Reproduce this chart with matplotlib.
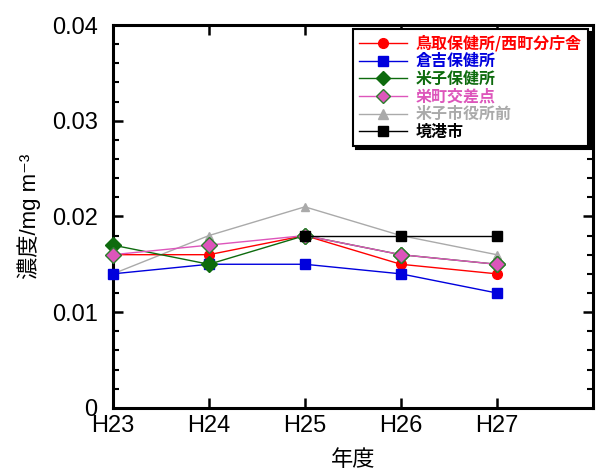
import numpy as np
import matplotlib
matplotlib.use("Agg")
import matplotlib.pyplot as plt
from matplotlib.ticker import MultipleLocator, FuncFormatter

plt.rcParams['font.family'] = ['Liberation Sans', 'Noto Sans CJK JP', 'DejaVu Sans']

# -------- data --------
years = ["H23", "H24", "H25", "H26", "H27"]
names = ["鳥取保健所/西町分庁舎", "倉吉保健所", "米子保健所", "栄町交差点", "米子市役所前", "境港市"]
tottori = [0.016, 0.016, 0.018, 0.015, 0.014]
kurayoshi = [0.014, 0.015, 0.015, 0.014, 0.012]
yonago = [0.017, 0.015, 0.018, 0.016, 0.015]
sakaemachi = [0.016, 0.017, 0.018, 0.016, 0.015]
yonago_city = [0.014, 0.018, 0.021, 0.018, 0.016]
sakaiminato = [np.nan, np.nan, 0.018, 0.018, 0.018]

series = [tottori, kurayoshi, yonago, sakaemachi, yonago_city, sakaiminato]
colors = ["#ff0000", "#0000dd", "#0e6b0e", "#dd55bb", "#aaaaaa", "#000000"]
markers = ["o", "s", "D", "D", "^", "s"]
msizes = [7, 7, 8, 8, 6, 7]
zorders = [3, 3, 4, 5, 2, 6]

fig = plt.figure(figsize=(5.98, 4.72), dpi=100)
ax = fig.add_axes([0.189, 0.136, 0.802, 0.811])

x = np.arange(len(years))
for vals, name, c, m, ms, z in zip(series, names, colors, markers, msizes, zorders):
    mec = c
    if name == "栄町交差点":
        mec = "#2e7d2e"
    ax.plot(x, vals, color=c, marker=m, markersize=ms, markeredgecolor=mec,
            linewidth=1, label=name, zorder=z, clip_on=False)

ax.set_xlim(0, 5)
ax.set_ylim(0, 0.04)
ax.set_xticks(x)
ax.set_xticklabels(years)
ax.yaxis.set_major_locator(MultipleLocator(0.01))
ax.yaxis.set_minor_locator(MultipleLocator(0.002))
ax.yaxis.set_major_formatter(FuncFormatter(lambda v, p: "0" if abs(v) < 1e-9 else "%.2f" % v))

for s in ax.spines.values():
    s.set_linewidth(2.2)
ax.tick_params(which='major', direction='in', length=7, width=1.8,
               top=True, right=True, labelsize=17, pad=5)
ax.tick_params(axis='y', which='major', pad=11)
ax.tick_params(which='minor', direction='in', length=4, width=1.5, right=True)

ax.set_ylabel("濃度/mg m⁻³", fontsize=16, labelpad=8)
ax.set_xlabel("年度", fontsize=16, labelpad=8,
              family=['Noto Sans CJK JP', 'DejaVu Sans'])

leg = ax.legend(loc='upper right', bbox_to_anchor=(0.99, 0.99), borderaxespad=0,
                fancybox=False, shadow={'color': 'black', 'alpha': 1},
                handlelength=3.0, labelspacing=0.1, borderpad=0.4,
                handletextpad=0.5, labelcolor='linecolor',
                prop={'family': ['Noto Sans CJK JP', 'DejaVu Sans'], 'size': 11.5, 'weight': 'bold'})
leg.get_frame().set_edgecolor('black')
leg.get_frame().set_linewidth(1.5)
for h in leg.legend_handles:
    h.set_markersize(7)

fig.savefig("out.png", dpi=100)
